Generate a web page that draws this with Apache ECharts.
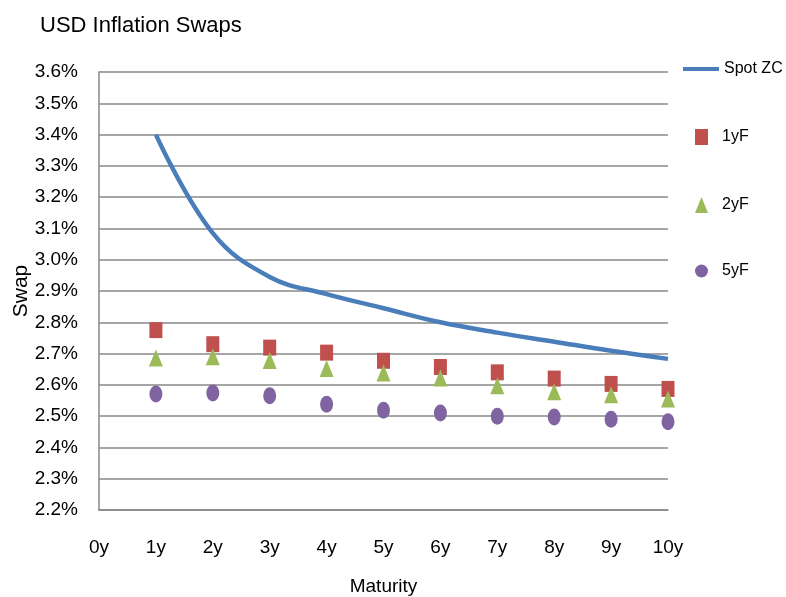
<!DOCTYPE html>
<html><head><meta charset="utf-8">
<script src="https://cdn.jsdelivr.net/npm/echarts@6/dist/echarts.min.js"></script>
<style>html,body{margin:0;padding:0;background:#fff}#c{width:786px;height:597px}</style>
</head><body><div id="c"></div>
<script>
const categories = ['0y','1y','2y','3y','4y','5y','6y','7y','8y','9y','10y'];
const spotZC = ['-', 3.40, 3.085, 2.945, 2.89, 2.845, 2.80, 2.767, 2.738, 2.709, 2.683];
const fwd1y  = ['-', 2.775, 2.73, 2.719, 2.703, 2.677, 2.657, 2.64, 2.62, 2.603, 2.587];
const fwd2y  = ['-', 2.686, 2.69, 2.678, 2.652, 2.638, 2.622, 2.597, 2.578, 2.568, 2.555];
const fwd5y  = ['-', 2.571, 2.574, 2.565, 2.538, 2.519, 2.51, 2.50, 2.497, 2.49, 2.482];
const yTicks = { min: 2.2, max: 3.6, step: 0.1 };

const FONT = "'Liberation Sans', sans-serif";
const chart = echarts.init(document.getElementById('c'), null, {renderer: 'canvas'});
const legendText = { fontFamily: FONT, fontSize: 16, color: '#000' };
const legendTextPad = { fontFamily: FONT, fontSize: 16, color: '#000', padding: [0, 0, 0, 9] };
chart.setOption({
  animation: false,
  backgroundColor: '#fff',
  title: { text: 'USD Inflation Swaps', left: 35, top: 10,
    textStyle: { fontFamily: FONT, fontSize: 22, fontWeight: 'normal', color: '#000' } },
  grid: { left: 99, right: 118, top: 72, bottom: 87, containLabel: false, outerBoundsMode: 'none' },
  legend: [
    { data: ['Spot ZC'], left: 678, top: 56, icon: 'rect', itemWidth: 36, itemHeight: 4, itemGap: 2, textStyle: legendText },
    { data: ['1yF'], left: 690, top: 124, itemWidth: 13, itemHeight: 16, textStyle: legendTextPad },
    { data: ['2yF'], left: 690, top: 192, itemWidth: 13, itemHeight: 16, textStyle: legendTextPad },
    { data: ['5yF'], left: 690, top: 258, itemWidth: 13, itemHeight: 16, textStyle: legendTextPad }
  ],
  xAxis: {
    type: 'category', data: categories, boundaryGap: false,
    name: 'Maturity', nameLocation: 'middle', nameGap: 67, nameMoveOverlap: false,
    nameTextStyle: { fontFamily: FONT, fontSize: 19, color: '#000' },
    axisLine: { lineStyle: { color: '#888', width: 1.5 } },
    axisTick: { show: false },
    axisLabel: { fontFamily: FONT, fontSize: 19, color: '#000', margin: 28 },
    splitLine: { show: false }
  },
  yAxis: {
    type: 'value', min: yTicks.min, max: yTicks.max, interval: yTicks.step,
    name: 'Swap', nameLocation: 'middle', nameGap: 67, nameRotate: 90, nameMoveOverlap: false,
    nameTextStyle: { fontFamily: FONT, fontSize: 21, color: '#000' },
    axisLine: { show: true, lineStyle: { color: '#888', width: 1.5 } },
    axisTick: { show: false },
    axisLabel: { fontFamily: FONT, fontSize: 19, color: '#000', margin: 21,
      formatter: v => v.toFixed(1) + '%' },
    splitLine: { lineStyle: { color: '#888', width: 1.5 } }
  },
  series: [
    { name: 'Spot ZC', type: 'line', data: spotZC, smooth: 0.4, showSymbol: false,
      lineStyle: { color: '#4A7EBB', width: 4.5 }, itemStyle: { color: '#4A7EBB' } },
    { name: '1yF', type: 'scatter', data: fwd1y, symbol: 'rect', symbolSize: [13, 16],
      itemStyle: { color: '#C0504D', opacity: 1 } },
    { name: '2yF', type: 'scatter', data: fwd2y, symbol: 'triangle', symbolSize: [14, 17],
      itemStyle: { color: '#9BBB59', opacity: 1 } },
    { name: '5yF', type: 'scatter', data: fwd5y, symbol: 'circle', symbolSize: [13, 17],
      itemStyle: { color: '#8064A2', opacity: 1 } }
  ]
});
</script></body></html>
